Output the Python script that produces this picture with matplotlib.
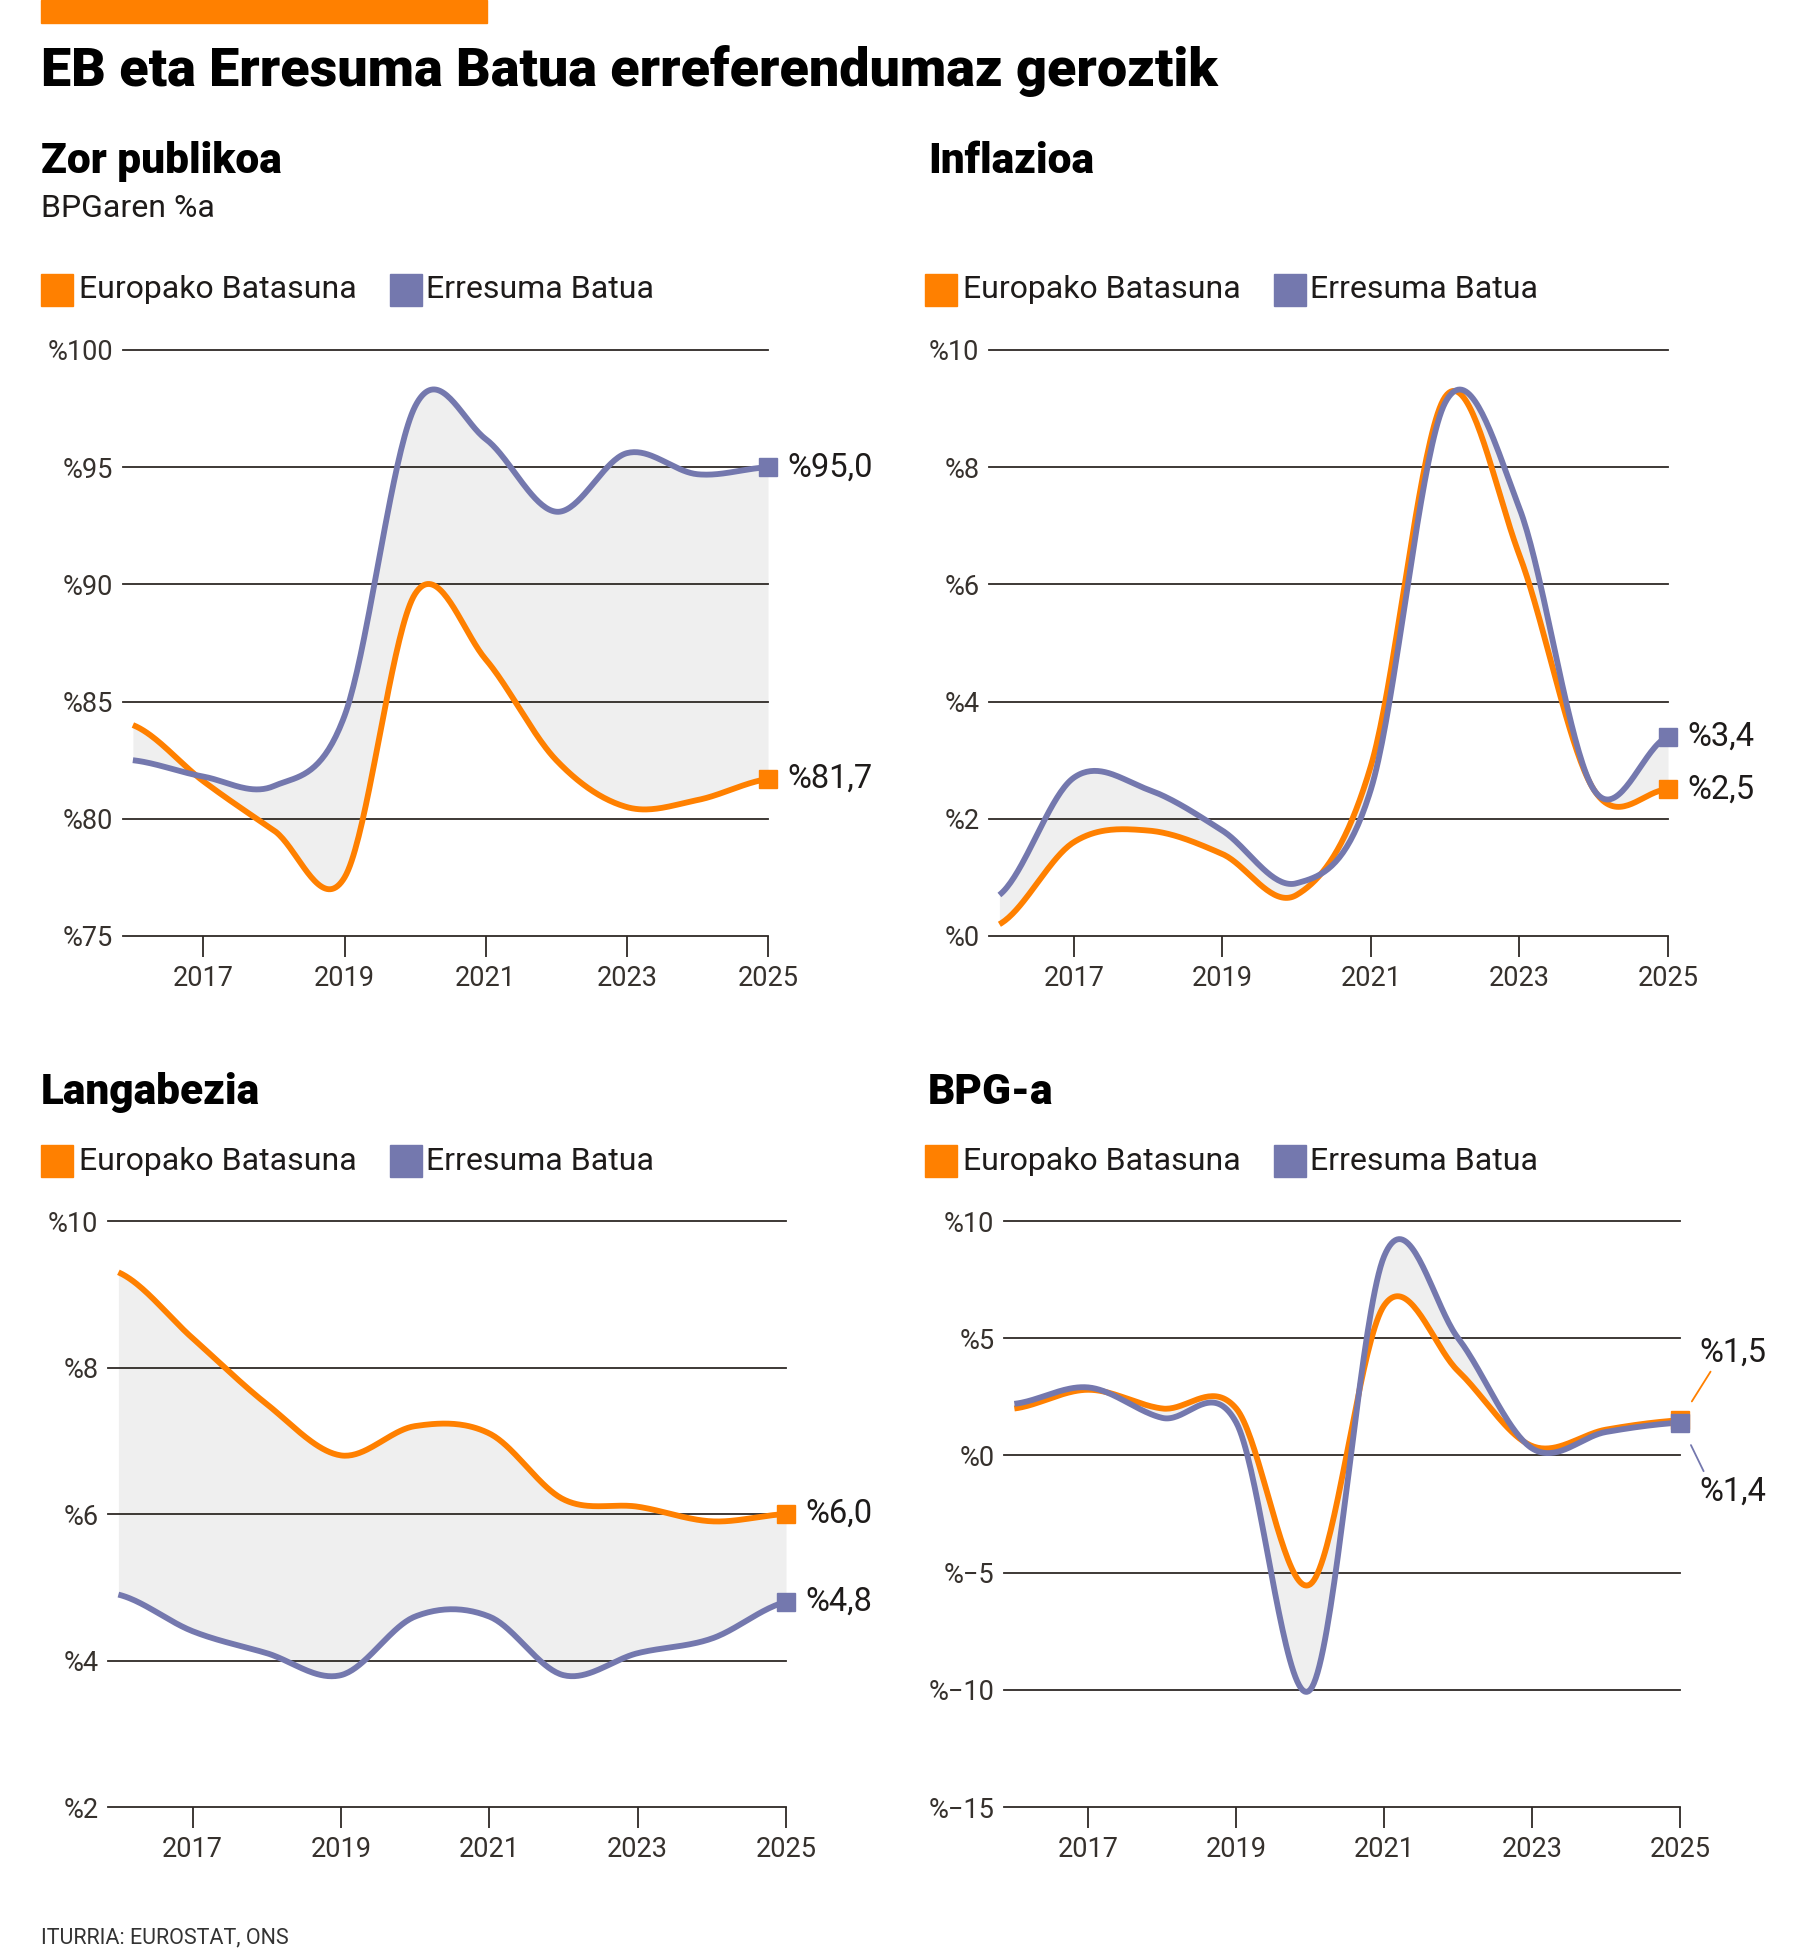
import numpy as np
import matplotlib
matplotlib.use("Agg")
import matplotlib.pyplot as plt
from matplotlib.patches import Rectangle

# Annual values
YEARS = [2016, 2017, 2018, 2019, 2020, 2021, 2022, 2023, 2024, 2025]
XTICKS = [2017, 2019, 2021, 2023, 2025]

DEBT_EU = [84.0, 81.6, 79.5, 77.5, 89.6, 86.8, 82.5, 80.5, 80.8, 81.7]
DEBT_UK = [82.5, 81.8, 81.4, 84.4, 97.6, 96.2, 93.1, 95.6, 94.7, 95.0]
DEBT_TICKS = [75, 80, 85, 90, 95, 100]

INFL_EU = [0.2, 1.6, 1.8, 1.4, 0.7, 2.9, 9.2, 6.5, 2.5, 2.5]
INFL_UK = [0.7, 2.7, 2.5, 1.8, 0.9, 2.5, 9.1, 7.3, 2.5, 3.4]
INFL_TICKS = [0, 2, 4, 6, 8, 10]

UNEMP_EU = [9.3, 8.4, 7.5, 6.8, 7.2, 7.1, 6.2, 6.1, 5.9, 6.0]
UNEMP_UK = [4.9, 4.4, 4.1, 3.8, 4.6, 4.6, 3.8, 4.1, 4.3, 4.8]
UNEMP_TICKS = [2, 4, 6, 8, 10]

GDP_EU = [2.0, 2.8, 2.0, 2.0, -5.5, 6.4, 3.6, 0.4, 1.1, 1.5]
GDP_UK = [2.2, 2.9, 1.6, 1.4, -10.0, 8.5, 5.0, 0.3, 1.0, 1.4]
GDP_TICKS = [-15, -10, -5, 0, 5, 10]

EU_LABEL = "Europako Batasuna"
UK_LABEL = "Erresuma Batua"

W, H = 1800, 1960
ORANGE = "#FF8000"
PURPLE = "#7478AE"
INK = "#1E1B1A"
TICK_INK = "#36312D"
GRID = "#2E2925"
FILL = "#EFEFEF"

plt.rcParams["font.family"] = ["Roboto", "DejaVu Sans"]


def catmull_rom(xs, ys, steps=40):
    """Uniform cardinal spline through the points (like d3.curveCardinal)."""
    xs = np.asarray(xs, float)
    ys = np.asarray(ys, float)
    n = len(xs)
    m = np.empty(n)
    m[1:-1] = (ys[2:] - ys[:-2]) / 2
    m[0] = (ys[1] - ys[0]) / 2
    m[-1] = (ys[-1] - ys[-2]) / 2
    out_x, out_y = [], []
    for i in range(n - 1):
        t = np.linspace(0, 1, steps, endpoint=(i == n - 2))
        h00 = 2 * t**3 - 3 * t**2 + 1
        h10 = t**3 - 2 * t**2 + t
        h01 = -2 * t**3 + 3 * t**2
        h11 = t**3 - t**2
        out_x.append(xs[i] + t * (xs[i + 1] - xs[i]))
        out_y.append(h00 * ys[i] + h10 * m[i] + h01 * ys[i + 1] + h11 * m[i + 1])
    return np.concatenate(out_x), np.concatenate(out_y)


def pct(v):
    s = f"{v:g}".replace("-", "\u2212")
    return "%" + s


def fmt_val(v):
    return "%" + f"{v:.1f}".replace(".", ",")


fig = plt.figure(figsize=(W / 100, H / 100), dpi=100)


def px(x, y):
    return x / W, 1 - y / H


def panel(left, right, top, bottom, ylim, yticks, eu, uk):
    ax = fig.add_axes([left / W, 1 - bottom / H, (right - left) / W, (bottom - top) / H])
    ax.set_xlim(2015.86, 2025)
    ax.set_ylim(*ylim)
    ax.patch.set_alpha(0)
    for s in ax.spines.values():
        s.set_visible(False)
    ax.set_yticks(yticks)
    ax.set_yticklabels([pct(v) for v in yticks])
    ax.tick_params(axis="y", length=0, pad=7, labelsize=19.5, labelcolor=TICK_INK)
    ax.set_xticks(XTICKS)
    ax.set_xticklabels([str(y) for y in XTICKS])
    ax.tick_params(axis="x", length=15, width=1.3, color=GRID, pad=6,
                   labelsize=19.5, labelcolor=TICK_INK)
    for v in yticks:
        ax.axhline(v, color=GRID, lw=1.3, zorder=1, clip_on=False)

    sx, se = catmull_rom(YEARS, eu)
    _, su = catmull_rom(YEARS, uk)
    ax.fill_between(sx, se, su, color=FILL, lw=0, zorder=0.5)
    ax.plot(sx, se, color=ORANGE, lw=4.2, zorder=3, solid_capstyle="butt")
    ax.plot(sx, su, color=PURPLE, lw=4.2, zorder=4, solid_capstyle="butt")
    return ax


def end_marker(ax, val, color, z):
    ax.plot([YEARS[-1]], [val], "s", ms=13.5, color=color, clip_on=False, zorder=z)


def end_label(ax, val, dy=0):
    ax.annotate(fmt_val(val), xy=(YEARS[-1], val), xytext=(14, dy),
                textcoords="offset points", ha="left", va="center",
                fontsize=23.5, color=INK, annotation_clip=False)


def legend(x_left, y_center):
    fig.patches.append(Rectangle(px(x_left, y_center + 16), 32 / W, 32 / H,
                                 transform=fig.transFigure, color=ORANGE))
    fig.text(*px(x_left + 38, y_center), EU_LABEL, fontsize=23, color=INK, va="center")
    fig.patches.append(Rectangle(px(x_left + 349, y_center + 16), 32 / W, 32 / H,
                                 transform=fig.transFigure, color=PURPLE))
    fig.text(*px(x_left + 385, y_center), UK_LABEL, fontsize=23, color=INK, va="center")


# Header
fig.patches.append(Rectangle(px(41, 23), 446 / W, 23 / H, transform=fig.transFigure,
                             color=ORANGE))
fig.text(*px(41, 86), "EB eta Erresuma Batua erreferendumaz geroztik",
         fontsize=38.8, fontweight="heavy", color="black", va="baseline")

fig.text(*px(41, 173), "Zor publikoa", fontsize=30.5, fontweight="heavy", va="baseline")
fig.text(*px(41, 217), "BPGaren %a", fontsize=23, color=INK, va="baseline")
fig.text(*px(928, 173), "Inflazioa", fontsize=30.5, fontweight="heavy", va="baseline")
fig.text(*px(41, 1104), "Langabezia", fontsize=30.5, fontweight="heavy", va="baseline")
fig.text(*px(928, 1104), "BPG-a", fontsize=30.5, fontweight="heavy", va="baseline")

legend(41, 290)
legend(925, 290)
legend(41, 1161)
legend(925, 1161)

# Zor publikoa
ax1 = panel(123, 768, 350, 936, (75, 100), DEBT_TICKS, DEBT_EU, DEBT_UK)
end_marker(ax1, DEBT_EU[-1], ORANGE, 6)
end_marker(ax1, DEBT_UK[-1], PURPLE, 7)
end_label(ax1, DEBT_EU[-1])
end_label(ax1, DEBT_UK[-1])

# Inflazioa
ax2 = panel(989, 1668, 350, 936, (0, 10), INFL_TICKS, INFL_EU, INFL_UK)
end_marker(ax2, INFL_EU[-1], ORANGE, 6)
end_marker(ax2, INFL_UK[-1], PURPLE, 7)
end_label(ax2, INFL_EU[-1])
end_label(ax2, INFL_UK[-1])

# Langabezia
ax3 = panel(108, 786, 1221, 1807, (2, 10), UNEMP_TICKS, UNEMP_EU, UNEMP_UK)
end_marker(ax3, UNEMP_EU[-1], ORANGE, 6)
end_marker(ax3, UNEMP_UK[-1], PURPLE, 7)
end_label(ax3, UNEMP_EU[-1])
end_label(ax3, UNEMP_UK[-1])

# BPG-a: values too close, labels pulled apart with leader lines
ax4 = panel(1004, 1680, 1221, 1807, (-15, 10), GDP_TICKS, GDP_EU, GDP_UK)
end_marker(ax4, GDP_EU[-1], ORANGE, 6)
end_marker(ax4, GDP_UK[-1], PURPLE, 7)
ax4.annotate("", xy=(YEARS[-1], GDP_EU[-1]), xytext=(22, 35), textcoords="offset points",
             arrowprops=dict(arrowstyle="-", color=ORANGE, lw=1.3, shrinkA=0, shrinkB=16),
             annotation_clip=False)
ax4.annotate("", xy=(YEARS[-1], GDP_UK[-1]), xytext=(17, -35), textcoords="offset points",
             arrowprops=dict(arrowstyle="-", color=PURPLE, lw=1.3, shrinkA=0, shrinkB=18),
             annotation_clip=False)
end_label(ax4, GDP_EU[-1], dy=49)
end_label(ax4, GDP_UK[-1], dy=-50)

fig.text(*px(41, 1938), "ITURRIA: EUROSTAT, ONS", fontsize=15.5, color="#333333",
         va="center")

fig.savefig("out.png", dpi=100)
